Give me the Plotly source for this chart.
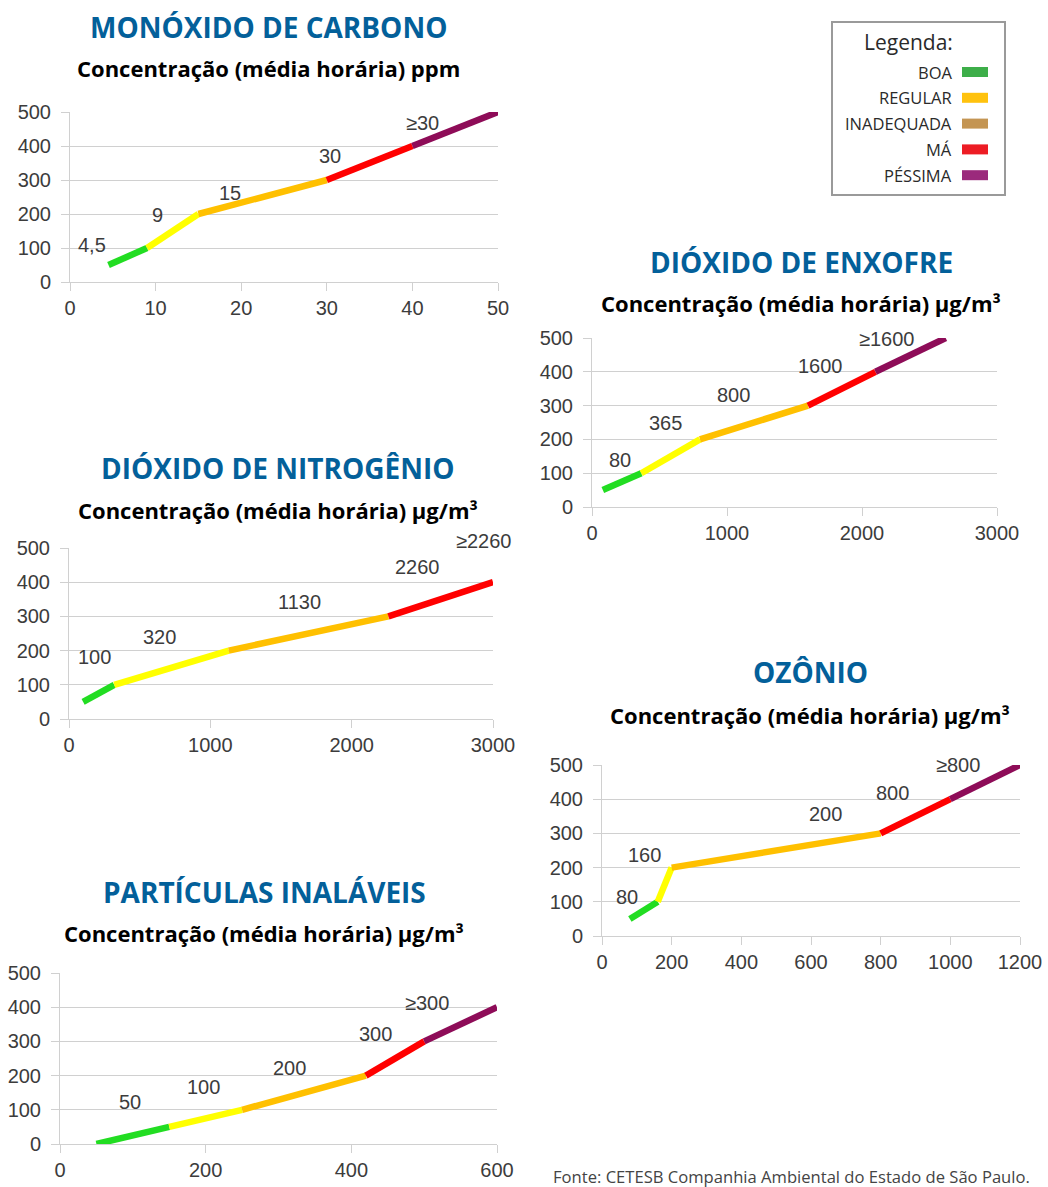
import plotly.graph_objects as go

W, H = 1048, 1187

# cores das faixas
VERDE = "#22DD22"
AMARELO = "#FFFF00"
LARANJA = "#FFC000"
VERMELHO = "#FF0000"
ROXO = "#8E0C58"

# --- dados (pontos de quebra do índice) ---
co_x = [4.5, 9, 15, 30, 40, 50]
co_y = [50, 100, 200, 300, 400, 500]
co_rotulos = ["4,5", "9", "15", "30", "≥30"]
co_cores = [VERDE, AMARELO, LARANJA, VERMELHO, ROXO]

so2_x = [80, 365, 800, 1600, 2100, 2620]
so2_y = [50, 100, 200, 300, 400, 500]
so2_rotulos = ["80", "365", "800", "1600", "≥1600"]
so2_cores = [VERDE, AMARELO, LARANJA, VERMELHO, ROXO]

no2_x = [100, 320, 1130, 2260, 3000]
no2_y = [50, 100, 200, 300, 400]
no2_rotulos = ["100", "320", "1130", "2260", "≥2260"]
no2_cores = [VERDE, AMARELO, LARANJA, VERMELHO]

o3_x = [80, 160, 200, 800, 1000, 1200]
o3_y = [50, 100, 200, 300, 400, 500]
o3_rotulos = ["80", "160", "200", "800", "≥800"]
o3_cores = [VERDE, AMARELO, LARANJA, VERMELHO, ROXO]

pm_x = [50, 150, 250, 420, 500, 600]
pm_y = [0, 50, 100, 200, 300, 400]
pm_rotulos = ["50", "100", "200", "300", "≥300"]
pm_cores = [VERDE, AMARELO, LARANJA, VERMELHO, ROXO]

legenda_nomes = ["BOA", "REGULAR", "INADEQUADA", "MÁ", "PÉSSIMA"]
legenda_cores = ["#3DAE49", "#FFC20E", "#C49553", "#ED1C24", "#9B2A7C"]

AZUL = "#03609A"
GRADE = "#D0D0D0"
TXT = "#3C3C3C"
FONTE_NUM = "Liberation Sans, Arial, sans-serif"
FONTE_TIT = "Open Sans, Noto Sans, sans-serif"


def px(x):
    return x / W


def py(y):
    return 1 - y / H


# painel: caixa em pixels (x0, x1, ytopo, ybase), faixa x, passo x,
# deslocamento dos rótulos em pixels, título e subtítulo (centro, y)
paineis = [
    dict(x=co_x, y=co_y, rot=co_rotulos, cores=co_cores, caixa=(70, 498, 112, 282),
         xmax=50, dtick=10,
         desl=[(-17, 20), (10, 33), (32, 21), (3, 24), (10, 23)],
         titulo="MONÓXIDO DE CARBONO", sub="Concentração (média horária) ppm",
         tpos=(268, 27, 68)),
    dict(x=so2_x, y=so2_y, rot=so2_rotulos, cores=so2_cores, caixa=(592, 997, 338, 507),
         xmax=3000, dtick=1000,
         desl=[(17, 30), (24, 50), (33, 44), (12, 40), (11, 33)],
         titulo="DIÓXIDO DE ENXOFRE", sub="Concentração (média horária) µg/m³",
         tpos=(801, 262, 303)),
    dict(x=no2_x, y=no2_y, rot=no2_rotulos, cores=no2_cores, caixa=(69, 493, 548, 719),
         xmax=3000, dtick=1000,
         desl=[(11, 45), (45, 48), (71, 49), (29, 49), (-10, 41)],
         titulo="DIÓXIDO DE NITROGÊNIO", sub="Concentração (média horária) µg/m³",
         tpos=(278, 468, 510)),
    dict(x=o3_x, y=o3_y, rot=o3_rotulos, cores=o3_cores, caixa=(602, 1020, 765, 936),
         xmax=1200, dtick=200,
         desl=[(-3, 22), (-13, 47), (154, 54), (12, 40), (8, 34)],
         titulo="OZÔNIO", sub="Concentração (média horária) µg/m³",
         tpos=(810, 672, 715)),
    dict(x=pm_x, y=pm_y, rot=pm_rotulos, cores=pm_cores, caixa=(60, 497, 973, 1144),
         xmax=600, dtick=200,
         desl=[(34, 42), (34, 40), (47, 42), (10, 42), (3, 38)],
         titulo="PARTÍCULAS INALÁVEIS", sub="Concentração (média horária) µg/m³",
         tpos=(264, 892, 933)),
]

fig = go.Figure()
anots = []
formas = []
layout_eixos = {}


def texto(x, y, txt, fonte, xanchor="center"):
    return dict(x=px(x), y=py(y), xref="paper", yref="paper", text=txt, showarrow=False,
                xanchor=xanchor, yanchor="middle", font=fonte)


for i, p in enumerate(paineis, start=1):
    xa = "x" if i == 1 else f"x{i}"
    ya = "y" if i == 1 else f"y{i}"
    x0, x1, yt, yb = p["caixa"]

    for k, cor in enumerate(p["cores"]):
        fig.add_trace(go.Scatter(
            x=p["x"][k:k + 2], y=p["y"][k:k + 2], mode="lines",
            line=dict(color=cor, width=6.5), xaxis=xa, yaxis=ya,
            showlegend=False, hoverinfo="skip"))

    for k, txt in enumerate(p["rot"]):
        dx, dy = p["desl"][k]
        anots.append(dict(x=p["x"][k], y=p["y"][k], xref=xa, yref=ya, text=txt,
                          showarrow=False, xshift=dx, yshift=dy,
                          xanchor="center", yanchor="middle",
                          font=dict(family=FONTE_NUM, size=20, color=TXT)))

    cx, ty, sy = p["tpos"]
    anots.append(texto(cx, ty, p["titulo"],
                       dict(family=FONTE_TIT, size=28, color=AZUL, weight="bold")))
    anots.append(texto(cx, sy, p["sub"],
                       dict(family=FONTE_TIT, size=22, color="#000000", weight="bold")))

    eixo = dict(showgrid=False, zeroline=False, showline=True, linecolor=GRADE,
                ticks="outside", ticklen=8, tickcolor=GRADE, automargin=False,
                tickfont=dict(family=FONTE_NUM, size=20, color=TXT))
    layout_eixos["xaxis" if i == 1 else f"xaxis{i}"] = dict(
        eixo, domain=[px(x0), px(x1)], range=[0, p["xmax"]], dtick=p["dtick"], tick0=0,
        anchor=ya)
    layout_eixos["yaxis" if i == 1 else f"yaxis{i}"] = dict(
        eixo, domain=[py(yb), py(yt)], range=[0, 500], dtick=100, tick0=0,
        showgrid=True, gridcolor=GRADE, anchor=xa, ticklabelstandoff=6)

# caixa da legenda
formas.append(dict(type="rect", xref="paper", yref="paper", x0=px(832), x1=px(1005),
                   y0=py(195), y1=py(22), line=dict(color="#9A9A9A", width=2)))
anots.append(texto(908, 42, "Legenda:", dict(family=FONTE_TIT, size=21, color="#2A2A2A")))
for k, (nome, cor) in enumerate(zip(legenda_nomes, legenda_cores)):
    yy = 72 + k * 25.8
    anots.append(texto(954, yy, nome, dict(family=FONTE_TIT, size=16.5, color="#2A2A2A"),
                       xanchor="right"))
    formas.append(dict(type="rect", xref="paper", yref="paper", x0=px(962), x1=px(988),
                       y0=py(yy + 5), y1=py(yy - 5), fillcolor=cor, line=dict(width=0)))

anots.append(texto(551, 1176, "Fonte: CETESB Companhia Ambiental do Estado de São Paulo.",
                   dict(family=FONTE_TIT, size=16.6, color="#444444"), xanchor="left"))

fig.update_layout(
    width=W, height=H, margin=dict(l=0, r=0, t=0, b=0, autoexpand=False),
    paper_bgcolor="white", plot_bgcolor="white",
    annotations=anots, shapes=formas, **layout_eixos)

# sem a margem padrão do <body>, a figura ocupa a janela inteira
fig.write_html("out.html", config={"displayModeBar": False},
               post_script="document.body.style.margin = '0';")
